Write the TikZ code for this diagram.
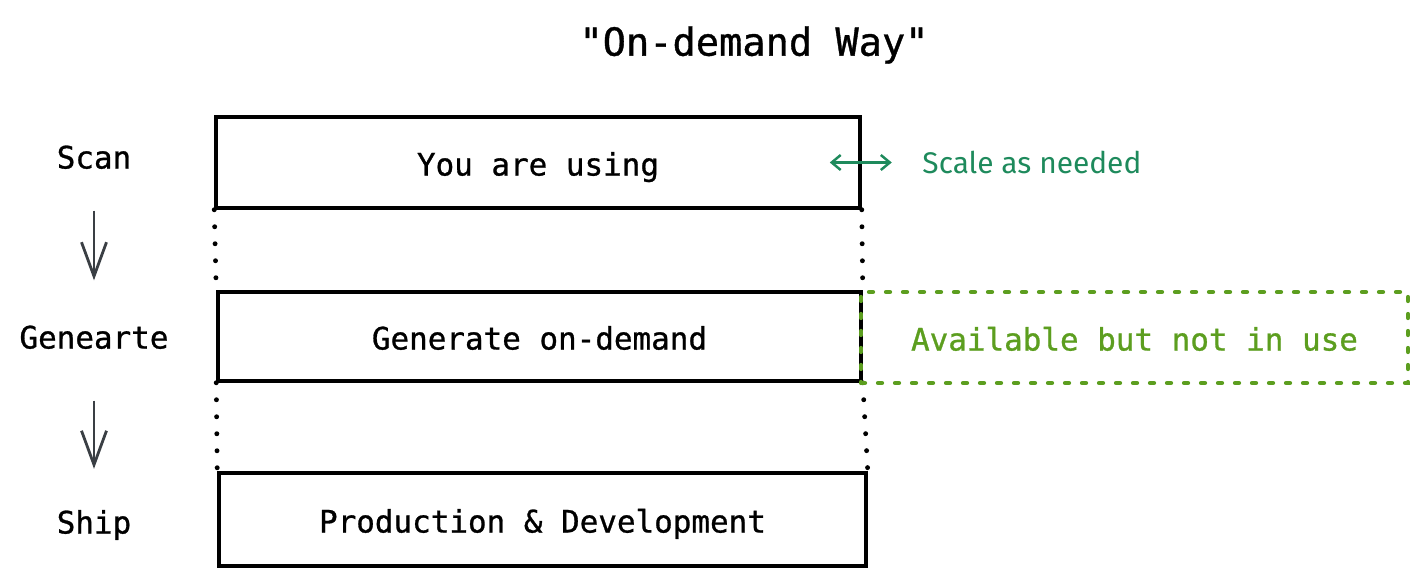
\documentclass[tikz,border=0pt]{standalone}
\usepackage{fontspec}
\setmonofont{DejaVu Sans Mono}[FakeBold=0.9]
\newfontfamily\notefont{Fira Sans}
\usetikzlibrary{arrows.meta,positioning,calc}
\definecolor{availgreen}{HTML}{5C9E1F}
\definecolor{scalegreen}{HTML}{1E8A5C}
\definecolor{arrowgray}{HTML}{3A3F44}

\begin{document}
\begin{tikzpicture}[
    layer/.style={draw=black, line width=1pt, minimum width=6.44cm, minimum height=0.91cm, inner sep=0pt, text height=0.26cm, text depth=0cm, font=\ttfamily\fontsize{8.8}{10}\selectfont},
    stage/.style={inner sep=0pt, text height=0.23cm, text depth=0cm, font=\ttfamily\fontsize{8.8}{10}\selectfont},
    idlebox/.style={draw=availgreen, line width=1.2pt, dash pattern=on 0.04cm off 0.13cm, line cap=round, text=availgreen, minimum width=5.47cm, minimum height=0.91cm, inner sep=0pt, text height=0.26cm, text depth=0cm, font=\ttfamily\fontsize{8.8}{10}\selectfont},
    guide/.style={line width=1.4pt, line cap=round, dash pattern=on 0pt off 0.17cm},
    stagearrow/.style={-{Straight Barb[length=0.34cm,width=0.25cm]}, arrowgray, line width=0.8pt},
    scalearrow/.style={{Straight Barb[length=0.09cm,width=0.15cm]}-{Straight Barb[length=0.09cm,width=0.15cm]}, scalegreen, line width=0.7pt}
]
    \useasboundingbox (0,0) rectangle (14.23,-5.86);

    % Title
    \node[font=\ttfamily\fontsize{11}{13}\selectfont] (title) at (7.54,-0.45) {"On-demand Way"};

    % Layers
    \node[layer] (youuse) at (5.38,-1.625) {You are using};
    \node[layer, minimum width=6.43cm, minimum height=0.89cm] (ondemand) at (5.395,-3.365) {Generate on-demand};
    \node[layer, minimum width=6.47cm, minimum height=0.93cm] (proddev) at (5.425,-5.195) {Production \& Development};

    % Dotted guides between layers
    \draw[guide] (youuse.south west) -- (ondemand.north west);
    \draw[guide] (ondemand.south west) -- (proddev.north west);
    \draw[guide] (youuse.south east) -- (ondemand.north east);
    \draw[guide] (ondemand.south east) -- (proddev.north east);

    % Unused capacity
    \node[idlebox] (unused) at (11.345,-3.375) {Available but not in use};

    % Stages
    \node[stage] (scan) at (0.94,-1.57) {Scan};
    \node[stage] (generate) at (0.94,-3.37) {Genearte};
    \node[stage] (ship) at (0.94,-5.22) {Ship};
    \draw[stagearrow, shorten <=0.415cm, shorten >=0.445cm] (scan) -- (generate);
    \draw[stagearrow, shorten <=0.515cm, shorten >=0.41cm] (generate) -- (ship);

    % Scaling note
    \draw[scalearrow] ([xshift=-0.32cm]youuse.east) -- ([xshift=0.30cm]youuse.east) coordinate (scaleright);
    \node[inner sep=0pt, right=0.3cm of scaleright, text=scalegreen, font=\notefont\fontsize{8.5}{10}\selectfont] (scalenote) {Scale as needed};
\end{tikzpicture}
\end{document}
